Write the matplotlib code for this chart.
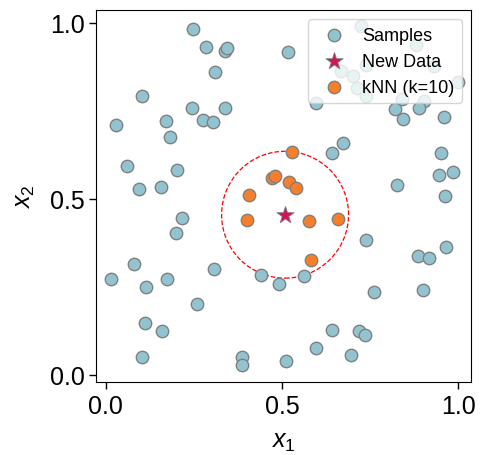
import matplotlib
matplotlib.use("Agg")
import matplotlib.pyplot as plt
import numpy as np

plt.rcParams['font.family'] = ['Liberation Sans', 'DejaVu Sans']
plt.rcParams['mathtext.fontset'] = 'custom'
plt.rcParams['mathtext.rm'] = 'Liberation Sans'
plt.rcParams['mathtext.it'] = 'Liberation Sans:italic'

# 样本点（非近邻）
sample_x = [0.249, 0.285, 0.338, 0.343, 0.311, 0.104, 0.246, 0.338, 0.172, 0.029,
            0.277, 0.305, 0.182, 0.061, 0.202, 0.094, 0.158, 0.518, 0.724, 0.880,
            0.668, 0.701, 0.738, 0.712, 0.738, 0.931, 0.999, 0.841, 0.903, 0.597,
            0.821, 0.843, 0.890, 0.961, 0.674, 0.643, 0.951, 0.946, 0.984, 0.826,
            0.963, 0.218, 0.201, 0.081, 0.015, 0.116, 0.173, 0.307, 0.441, 0.491,
            0.258, 0.111, 0.160, 0.103, 0.387, 0.387, 0.513, 0.738, 0.965, 0.886,
            0.917, 0.562, 0.762, 0.901, 0.641, 0.719, 0.735, 0.597, 0.697]
sample_y = [0.981, 0.932, 0.921, 0.928, 0.859, 0.793, 0.759, 0.759, 0.722, 0.710,
            0.725, 0.717, 0.676, 0.593, 0.583, 0.529, 0.533, 0.918, 0.992, 0.936,
            0.862, 0.850, 0.879, 0.815, 0.792, 0.877, 0.832, 0.784, 0.779, 0.773,
            0.754, 0.727, 0.758, 0.733, 0.658, 0.629, 0.629, 0.569, 0.577, 0.538,
            0.509, 0.446, 0.404, 0.315, 0.272, 0.249, 0.272, 0.302, 0.284, 0.259,
            0.202, 0.149, 0.125, 0.052, 0.052, 0.028, 0.039, 0.384, 0.363, 0.337,
            0.333, 0.280, 0.237, 0.241, 0.129, 0.125, 0.114, 0.077, 0.058]

# k 个近邻
knn_x = [0.528, 0.471, 0.481, 0.521, 0.540, 0.406, 0.401, 0.577, 0.658, 0.583]
knn_y = [0.634, 0.559, 0.566, 0.547, 0.531, 0.512, 0.441, 0.4375, 0.442, 0.326]

# 新数据点
new_x, new_y = 0.509, 0.455

fig = plt.figure(figsize=(4.82, 4.56), dpi=100)
ax = fig.add_axes([0.200, 0.160, 0.777, 0.815])

# 近邻范围圆
radius = np.max(np.hypot(np.array(knn_x) - new_x, np.array(knn_y) - new_y))
circle = plt.Circle((new_x, new_y), radius, fill=False, color='red',
                    linestyle='--', linewidth=0.9, zorder=1)
ax.add_patch(circle)

ax.scatter(sample_x, sample_y, s=80, c='#91C4D0', edgecolors='gray',
           linewidths=1, label='Samples', zorder=2)
ax.scatter([new_x], [new_y], s=170, marker='*', c='#D2145A', edgecolors='gray',
           linewidths=0.6, label='New Data', zorder=4)
ax.scatter(knn_x, knn_y, s=80, c='#F57F2A', edgecolors='gray',
           linewidths=1, label='kNN (k=10)', zorder=3)

ax.set_xlim(-0.026, 1.036)
ax.set_ylim(-0.020, 1.035)
ax.set_xticks([0.0, 0.5, 1.0])
ax.set_yticks([0.0, 0.5, 1.0])
ax.tick_params(labelsize=18, length=5, width=1)
ax.set_xlabel('$x_1$', fontsize=18, labelpad=8)
ax.set_ylabel('$x_2$', fontsize=18, labelpad=9)
ax.legend(loc='upper right', fontsize=13, handletextpad=0.6)

fig.savefig('out.png', dpi=100)
